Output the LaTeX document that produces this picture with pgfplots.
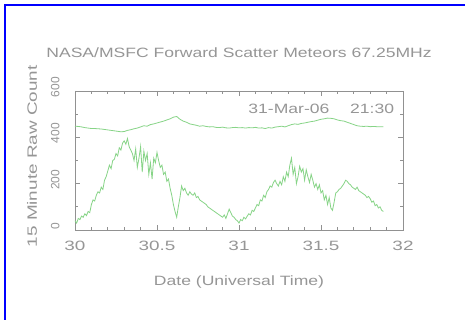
\documentclass[border=0pt]{standalone}
\usepackage{pgfplots}
\pgfplotsset{compat=1.18}
\usepackage{fontspec}
\setmainfont{Liberation Sans}
\definecolor{txtgray}{RGB}{150,150,150}
\definecolor{framegray}{RGB}{145,145,145}
\definecolor{meteorgreen}{RGB}{135,212,135}
\definecolor{borderblue}{RGB}{0,0,255}
\begin{document}
\begin{tikzpicture}[x=1pt,y=1pt]
\useasboundingbox (0,0) rectangle (465,320);
\fill[white] (0,0) rectangle (465,320);
\draw[borderblue, line width=2pt] (5,-5) -- (5,315) -- (475,315);
\begin{axis}[
  at={(75pt,90pt)}, anchor=south west,
  scale only axis, width=328pt, height=139pt,
  xmin=30, xmax=32, ymin=0, ymax=600,
  xtick={30,30.5,31,31.5,32},
  xticklabels={30,30.5,31,31.5,32},
  minor x tick num=4,
  ytick={0,200,400,600},
  minor y tick num=1,
  axis line style={framegray, line width=0.8pt},
  every tick/.style={framegray, line width=0.8pt},
  major tick length=5pt, minor tick length=3pt,
  tick align=inside,
  /pgf/number format/assume math mode=true,
  xticklabel style={font=\fontsize{13.5}{15}\selectfont, text=txtgray, xscale=1.4, yshift=-8pt},
  yticklabel style={font=\fontsize{12}{14}\selectfont, text=txtgray, rotate=90, anchor=south, xshift=4pt, yshift=12pt},
  xlabel={Date (Universal Time)},
  ylabel={15 Minute Raw Count},
  title={NASA/MSFC Forward Scatter Meteors 67.25MHz},
  xlabel style={at={(axis description cs:0.5,-0.374)}, anchor=center, font=\fontsize{13.5}{15}\selectfont, text=txtgray, xscale=1.3},
  ylabel style={at={(axis description cs:-0.131,0.53)}, anchor=center, font=\fontsize{13.5}{15}\selectfont, text=txtgray, xscale=1.4},
  title style={at={(axis description cs:0.5,1.235)}, anchor=center, font=\fontsize{13.5}{15}\selectfont, text=txtgray, xscale=1.3},
  clip=false,
]
\addplot[meteorgreen, line width=0.8pt] coordinates {
(30.00,448) (30.02,447) (30.04,445) (30.06,442) (30.08,440) (30.10,438) (30.12,438) (30.14,437) (30.16,436) (30.18,434)
(30.20,432) (30.22,430) (30.24,428) (30.26,426) (30.28,424) (30.30,425) (30.32,430) (30.34,433) (30.36,437) (30.38,440)
(30.40,445) (30.42,450) (30.44,448) (30.46,455) (30.48,458) (30.50,462) (30.52,466) (30.54,470) (30.56,475) (30.58,480)
(30.60,487) (30.62,490) (30.64,478) (30.66,470) (30.68,465) (30.70,458) (30.72,455) (30.74,452) (30.76,448) (30.78,450)
(30.80,447) (30.82,445) (30.84,446) (30.86,443) (30.88,442) (30.90,444) (30.92,441) (30.94,440) (30.96,442) (30.98,443)
(31.00,441) (31.02,442) (31.04,440) (31.06,442) (31.08,441) (31.10,443) (31.12,440) (31.14,441) (31.16,438) (31.18,442)
(31.20,440) (31.22,444) (31.24,446) (31.26,448) (31.28,445) (31.30,450) (31.32,455) (31.34,458) (31.36,456) (31.38,460)
(31.40,462) (31.42,465) (31.44,468) (31.46,470) (31.48,474) (31.50,478) (31.52,480) (31.54,483) (31.56,482) (31.58,480)
(31.60,475) (31.62,472) (31.64,470) (31.66,465) (31.68,460) (31.70,455) (31.72,450) (31.74,448) (31.76,447) (31.78,448)
(31.80,446) (31.82,447) (31.84,446) (31.86,446) (31.88,446)
};
\addplot[meteorgreen, line width=0.8pt] coordinates {
(30.00,40) (30.01,30) (30.02,50) (30.03,45) (30.04,60) (30.05,55) (30.06,70) (30.07,62) (30.08,80) (30.09,75)
(30.10,110) (30.11,130) (30.12,125) (30.13,150) (30.14,165) (30.15,160) (30.16,185) (30.17,175) (30.18,215) (30.19,230)
(30.20,255) (30.21,280) (30.22,265) (30.23,300) (30.24,305) (30.25,330) (30.26,320) (30.27,355) (30.28,345) (30.29,375)
(30.30,385) (30.31,370) (30.32,395) (30.33,360) (30.34,345) (30.35,330) (30.36,300) (30.37,350) (30.38,270) (30.39,310)
(30.40,360) (30.41,250) (30.42,340) (30.43,300) (30.44,330) (30.45,240) (30.46,290) (30.47,220) (30.48,310) (30.49,290)
(30.50,335) (30.51,300) (30.52,270) (30.53,280) (30.54,240) (30.55,250) (30.56,210) (30.57,220) (30.58,180) (30.59,150)
(30.60,110) (30.61,80) (30.62,55) (30.63,100) (30.64,140) (30.65,190) (30.66,170) (30.67,180) (30.68,160) (30.69,150)
(30.70,165) (30.71,155) (30.72,150) (30.73,160) (30.74,140) (30.75,145) (30.76,130) (30.77,125) (30.78,120) (30.79,115)
(30.80,110) (30.81,100) (30.82,95) (30.83,90) (30.84,85) (30.85,80) (30.86,75) (30.87,70) (30.88,65) (30.89,60)
(30.90,55) (30.91,65) (30.92,50) (30.93,70) (30.94,90) (30.95,75) (30.96,60) (30.97,55) (30.98,45) (30.99,40)
(31.00,30) (31.01,45) (31.02,40) (31.03,55) (31.04,48) (31.05,60) (31.06,70) (31.07,65) (31.08,85) (31.09,80)
(31.10,95) (31.11,110) (31.12,105) (31.13,130) (31.14,125) (31.15,150) (31.16,140) (31.17,165) (31.18,175) (31.19,190)
(31.20,185) (31.21,205) (31.22,215) (31.23,200) (31.24,190) (31.25,210) (31.26,195) (31.27,230) (31.28,210) (31.29,250)
(31.30,230) (31.31,280) (31.32,310) (31.33,240) (31.34,270) (31.35,200) (31.36,230) (31.37,275) (31.38,250) (31.39,265)
(31.40,215) (31.41,260) (31.42,230) (31.43,205) (31.44,240) (31.45,215) (31.46,185) (31.47,200) (31.48,175) (31.49,195)
(31.50,160) (31.51,170) (31.52,130) (31.53,150) (31.54,110) (31.55,140) (31.56,95) (31.57,85) (31.58,120) (31.59,160)
(31.60,165) (31.61,175) (31.62,180) (31.63,190) (31.64,200) (31.65,215) (31.66,210) (31.67,200) (31.68,195) (31.69,185)
(31.70,180) (31.71,175) (31.72,185) (31.73,170) (31.74,165) (31.75,160) (31.76,155) (31.77,150) (31.78,140) (31.79,145)
(31.80,135) (31.81,120) (31.82,125) (31.83,105) (31.84,110) (31.85,95) (31.86,100) (31.87,85) (31.88,80)
};
\node[anchor=east, font=\fontsize{13.5}{15}\selectfont, text=txtgray, xscale=1.3] at (rel axis cs:0.987,0.87) {31-Mar-06\hspace{16pt}21:30};
\end{axis}
\end{tikzpicture}
\end{document}
